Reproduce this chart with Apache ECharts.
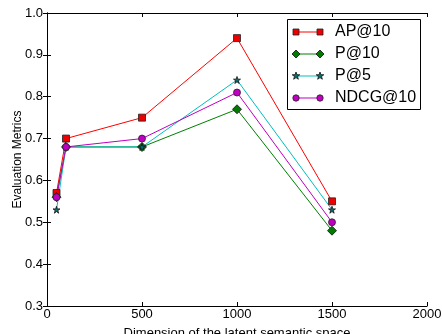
<!DOCTYPE html>
<html><head><meta charset="utf-8">
<script src="https://cdn.jsdelivr.net/npm/echarts@6/dist/echarts.min.js"></script>
<style>html,body{margin:0;padding:0;background:#fff}#c{width:442px;height:334px}</style>
</head><body><div id="c"></div>
<script>
var dims = [50, 100, 500, 1000, 1500];
var ap10 = [0.57, 0.70, 0.75, 0.94, 0.55];
var p10 = [0.56, 0.68, 0.68, 0.77, 0.48];
var p5 = [0.53, 0.68, 0.68, 0.84, 0.53];
var ndcg10 = [0.56, 0.68, 0.70, 0.81, 0.50];
var seriesNames = ['AP@10', 'P@10', 'P@5', 'NDCG@10'];

var star = 'path://M10,0L12.23,6.93L19.51,6.91L13.61,11.17L15.88,18.09L10,13.8L4.12,18.09L6.39,11.17L0.49,6.91L7.77,6.93Z';
function pairs(v){ return dims.map(function(d,i){ return [d, v[i]]; }); }
var font = 'Liberation Sans, Arial, sans-serif';
var styles = [
  {line:'#ff0000', face:'#ee0000', edge:'#222', sym:'rect', size:7},
  {line:'#008000', face:'#007a00', edge:'#111', sym:'diamond', size:9},
  {line:'#00bfbf', face:'#007070', edge:'#111', sym:star, size:7},
  {line:'#bf00bf', face:'#c000c0', edge:'#222', sym:'circle', size:7}
];
var vals = [ap10, p10, p5, ndcg10];
var series = seriesNames.map(function(n,i){
  var s = styles[i];
  return {name:n, type:'line', data:pairs(vals[i]), symbol:s.sym, symbolSize:s.size,
    showAllSymbol:true, animation:false,
    lineStyle:{color:s.line, width:1},
    itemStyle:{color:s.face, borderColor:s.edge, borderWidth:0.8}};
});
var axisCommon = {axisLine:{show:true,lineStyle:{color:'#000',width:1}},
  axisTick:{show:true,inside:true,length:4,lineStyle:{color:'#000'}},
  splitLine:{show:false}};

// legend drawn as graphic (line with markers at both ends)
function markerShape(i, cx, cy){
  var s = styles[i];
  var st = {fill:s.face, stroke:s.edge, lineWidth:0.8};
  if (i===0) return {type:'rect', shape:{x:cx-3,y:cy-3,width:6,height:6}, style:st};
  if (i===1) return {type:'polygon', shape:{points:[[cx,cy-4],[cx+4,cy],[cx,cy+4],[cx-4,cy]]}, style:st};
  if (i===2) {
    var pts=[]; for (var k=0;k<10;k++){ var r=(k%2===0)?4:1.6; var a=(-90+36*k)*Math.PI/180; pts.push([cx+r*Math.cos(a), cy+r*Math.sin(a)]); }
    return {type:'polygon', shape:{points:pts}, style:st};
  }
  return {type:'circle', shape:{cx:cx,cy:cy,r:3.2}, style:st};
}
var legendEls = [{type:'rect', shape:{x:287.5,y:19.5,width:133,height:90}, style:{fill:'#fff',stroke:'#000',lineWidth:1}}];
var rowY = [32, 54, 76, 98];
seriesNames.forEach(function(n,i){
  var y = rowY[i];
  legendEls.push({type:'line', shape:{x1:296,y1:y,x2:320,y2:y}, style:{stroke:styles[i].line,lineWidth:1}});
  legendEls.push(markerShape(i,296,y));
  legendEls.push(markerShape(i,320,y));
  legendEls.push({type:'text', x:335, y:y, style:{text:n, font:'16px Liberation Sans, Arial, sans-serif', fill:'#000', textVerticalAlign:'middle', verticalAlign:'middle'}});
});

var chart = echarts.init(document.getElementById('c'));
chart.setOption({
  backgroundColor:'#fff',
  animation:false,
  grid:{left:47,right:15,top:13,bottom:28,containLabel:false,outerBoundsMode:'none'},
  xAxis:[
    Object.assign({type:'value',min:0,max:2000,interval:500,position:'bottom',
      name:'Dimension of the latent semantic space',nameLocation:'middle',nameGap:21,nameMoveOverlap:false,
      nameTextStyle:{fontFamily:font,fontSize:13,color:'#000'},
      axisLabel:{fontFamily:font,fontSize:13,color:'#000',margin:2,formatter:function(v){return String(v);}}}, axisCommon),
    Object.assign({type:'value',min:0,max:2000,interval:500,position:'top',axisLabel:{show:false}}, axisCommon)
  ],
  yAxis:[
    Object.assign({type:'value',min:0.3,max:1.0,interval:0.1,position:'left',
      name:'Evaluation Metrics',nameLocation:'middle',nameGap:23,nameMoveOverlap:false,
      nameTextStyle:{fontFamily:font,fontSize:12,color:'#000'},
      axisLabel:{fontFamily:font,fontSize:13,color:'#000',margin:4,
        formatter:function(v){return v.toFixed(1);}}}, axisCommon),
    Object.assign({type:'value',min:0.3,max:1.0,interval:0.1,position:'right',axisLabel:{show:false}}, axisCommon)
  ],
  graphic:legendEls,
  series:series
});
</script></body></html>
